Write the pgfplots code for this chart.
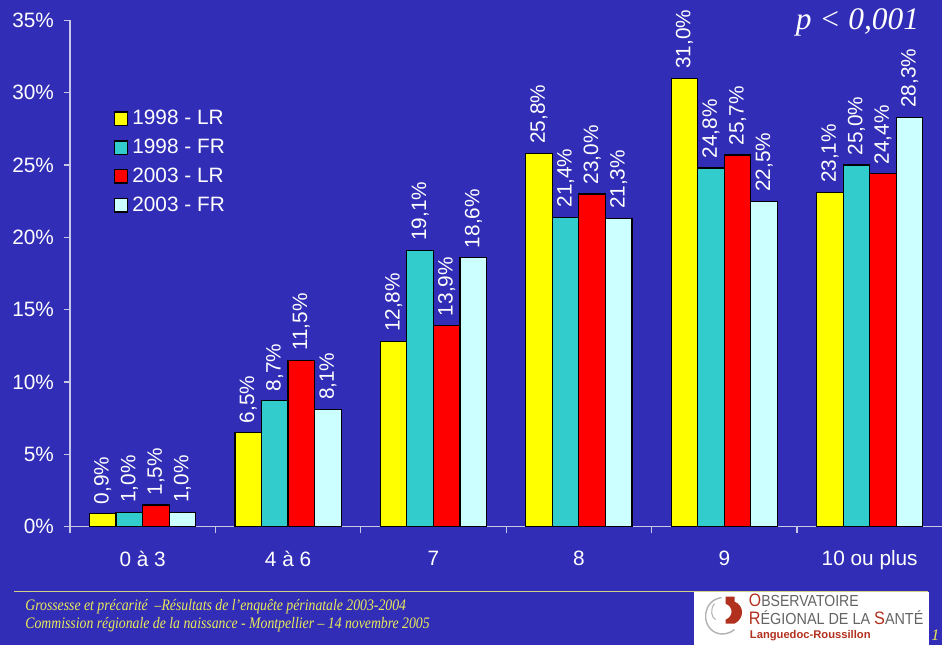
\documentclass[border=0pt]{standalone}
\usepackage{pgfplots}
\pgfplotsset{compat=1.18}
\usepackage{fontspec}
\setmainfont{Liberation Sans}
\newfontfamily\timesfont{Liberation Serif}
\definecolor{bgblue}{RGB}{49,45,182}
\definecolor{axisgray}{RGB}{200,200,230}
\definecolor{cLRa}{RGB}{255,255,0}
\definecolor{cFRa}{RGB}{51,204,204}
\definecolor{cLRb}{RGB}{255,0,0}
\definecolor{cFRb}{RGB}{204,255,255}
\definecolor{footyellow}{RGB}{235,235,90}
\definecolor{ruleyellow}{RGB}{210,205,130}
\definecolor{logored}{RGB}{178,48,30}
\definecolor{logogray}{RGB}{100,100,100}
\begin{document}
\begin{tikzpicture}
\begin{scope}[x=0.5pt,y=-0.5pt]
\fill[bgblue] (0,0) rectangle (943,645);
\useasboundingbox (0,0) rectangle (943,645);
% footer rule
\draw[ruleyellow,line width=0.6pt] (14,591.5) -- (929,591.5);
\node[anchor=west,inner sep=0pt,text=footyellow] at (25,607) {\timesfont\itshape\fontsize{8}{9}\selectfont\scalebox{0.86}[1]{Grossesse et précarité \ –Résultats de l’enquête périnatale 2003-2004}};
\node[anchor=west,inner sep=0pt,text=footyellow] at (25,625) {\timesfont\itshape\fontsize{8}{9}\selectfont\scalebox{0.86}[1]{Commission régionale de la naissance - Montpellier – 14 novembre 2005}};
% logo
\fill[white] (694,592) rectangle (930,645);
\draw[gray!60,line width=0.7pt] (722,598) .. controls (704,600) and (700,625) .. (716,633) .. controls (722,636) and (730,634) .. (735,630);
\draw[gray!60,line width=0.5pt] (715,604) .. controls (710,610) and (712,618) .. (716,620);
\fill[logored] (726,597) -- (735,597) -- (735,602) .. controls (745,606) and (745,619) .. (735,624) -- (726,624) -- (726,620) .. controls (734,617) and (734,607) .. (726,604) -- cycle;
\node[anchor=west,inner sep=0pt] at (749,601) {\fontsize{8}{9}\selectfont\scalebox{0.88}[1]{\textcolor{logored}{\fontsize{9}{9}\selectfont O}\textcolor{logogray}{BSERVATOIRE}}};
\node[anchor=west,inner sep=0pt] at (749,618) {\fontsize{8}{9}\selectfont\scalebox{0.9}[1]{\textcolor{logored}{\fontsize{9}{9}\selectfont R}\textcolor{logogray}{ÉGIONAL DE LA }\textcolor{logored}{\fontsize{9}{9}\selectfont S}\textcolor{logogray}{ANTÉ}}};
\node[anchor=west,inner sep=0pt] at (750,636) {\fontsize{5.6}{6}\selectfont\bfseries\textcolor{logored}{Languedoc-Roussillon}};
\node[anchor=center,inner sep=0pt,text=footyellow] at (936,636) {\timesfont\itshape\fontsize{8}{9}\selectfont 1};
% p-value
\node[anchor=center,inner sep=0pt,text=white] at (858,22) {\timesfont\itshape\fontsize{15.7}{16}\selectfont p < 0,001};
\end{scope}
\begin{axis}[
  at={(35pt,-263.5pt)}, anchor=south west,
  scale only axis, width=436.5pt, height=253.3pt,
  xmin=-0.5, xmax=5.5, ymin=0, ymax=35,
  ybar=0pt, bar width=13.3pt,
  axis x line=bottom, axis y line=left,
  axis line style={-, draw=axisgray, line width=0.6pt},
  tick align=outside,
  tick style={draw=axisgray, line width=0.6pt},
  major tick length=3pt, minor tick length=3pt,
  xtick={0,1,2,3,4,5},
  xticklabels={0 à 3,4 à 6,7,8,9,10 ou plus},
  major x tick style={draw=none},
  minor xtick={-0.5,0.5,1.5,2.5,3.5,4.5},
  ytick={0,5,10,15,20,25,30,35},
  yticklabel={\pgfmathprintnumber{\tick}\%},
  /pgf/number format/assume math mode=true,
  tick label style={text=white, font=\fontsize{10.4}{12}\selectfont},
  xticklabel style={yshift=-5.5pt},
  yticklabel style={xshift=-1.5pt},
  nodes near coords={\pgfmathprintnumber[fixed,fixed zerofill,precision=1,use comma,assume math mode=true]{\pgfplotspointmeta}\%},
  every node near coord/.append style={rotate=90, anchor=west, text=white, font=\fontsize{10.4}{11}\selectfont, inner xsep=4.5pt},
  every axis plot/.append style={draw=black, line width=0.6pt},
  legend style={at={(0.05,0.832)}, anchor=north west, draw=none, fill=none, text=white, font=\fontsize{10.4}{12}\selectfont, row sep=1.7pt, inner sep=0pt},
  legend cell align=left,
  legend image code/.code={\draw[#1,draw=black,line width=0.6pt] (0pt,-3.3pt) rectangle (6.6pt,3.3pt);},
]
\addplot[fill=cLRa] coordinates {(0,0.9) (1,6.5) (2,12.8) (3,25.8) (4,31.0) (5,23.1)};
\addplot[fill=cFRa] coordinates {(0,1.0) (1,8.7) (2,19.1) (3,21.4) (4,24.8) (5,25.0)};
\addplot[fill=cLRb] coordinates {(0,1.5) (1,11.5) (2,13.9) (3,23.0) (4,25.7) (5,24.4)};
\addplot[fill=cFRb] coordinates {(0,1.0) (1,8.1) (2,18.6) (3,21.3) (4,22.5) (5,28.3)};
\legend{1998 - LR,1998 - FR,2003 - LR,2003 - FR}
\end{axis}
\end{tikzpicture}
\end{document}
